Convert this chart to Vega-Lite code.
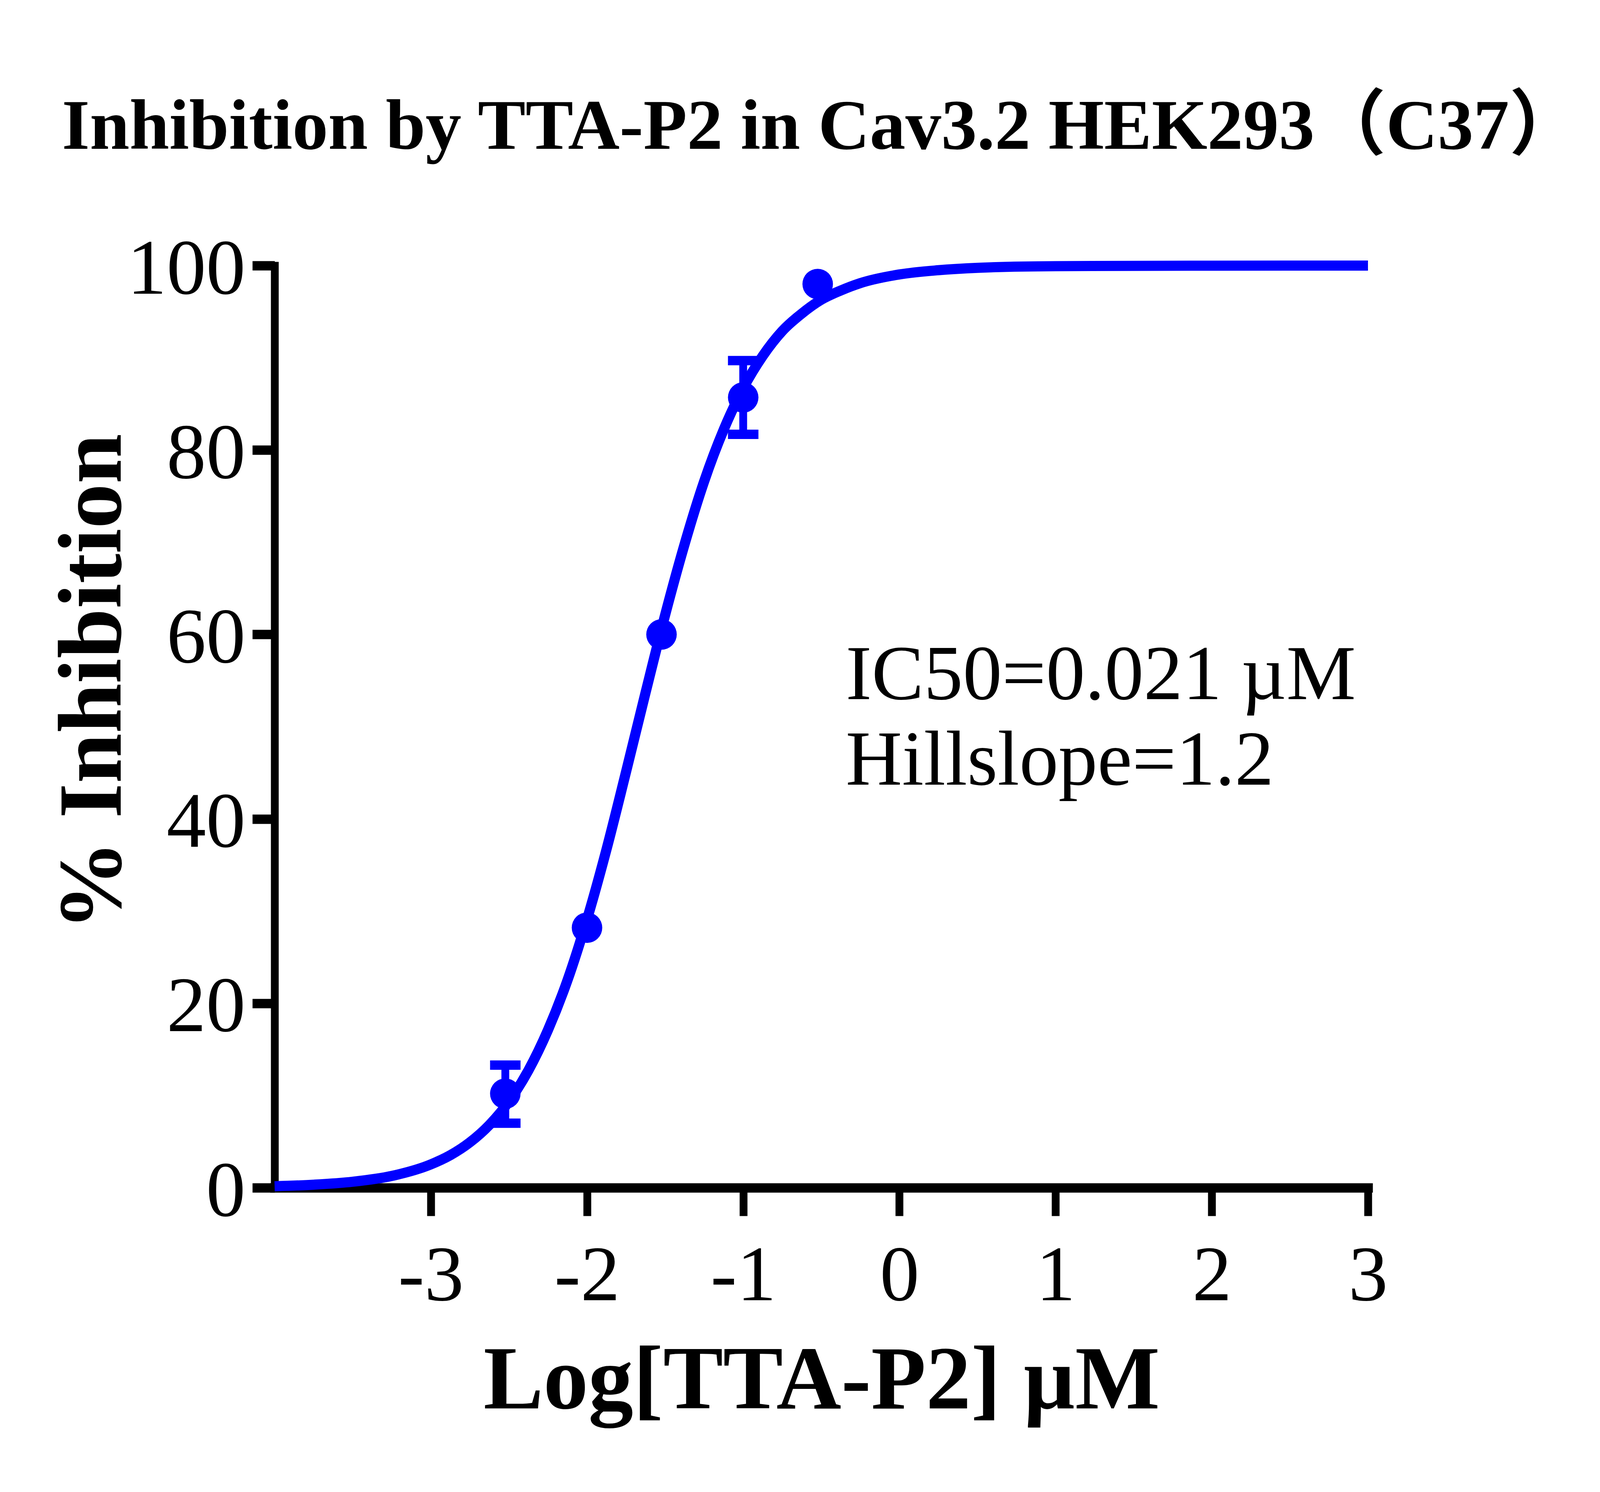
{
  "$schema": "https://vega.github.io/schema/vega-lite/v6.json",
  "width": 2799,
  "height": 2361,
  "autosize": {"type": "none"},
  "padding": {"left": 703, "top": 680, "right": 594, "bottom": 779},
  "background": "white",
  "title": {
    "text": "Inhibition by TTA-P2 in Cav3.2 HEK293（C37）",
    "font": "Liberation Serif, Noto Sans CJK SC",
    "fontSize": 183,
    "fontWeight": "bold",
    "color": "black",
    "anchor": "middle",
    "baseline": "alphabetic",
    "limit": 0,
    "offset": 25
  },
  "datasets": {
    "curve": [
      {"x": -4.0, "y": 0.16},
      {"x": -3.75, "y": 0.33},
      {"x": -3.5, "y": 0.65},
      {"x": -3.25, "y": 1.28},
      {"x": -3.0, "y": 2.53},
      {"x": -2.875, "y": 3.53},
      {"x": -2.75, "y": 4.92},
      {"x": -2.625, "y": 6.81},
      {"x": -2.5, "y": 9.35},
      {"x": -2.375, "y": 12.73},
      {"x": -2.25, "y": 17.1},
      {"x": -2.125, "y": 22.5},
      {"x": -2.0, "y": 29.1},
      {"x": -1.875, "y": 36.7},
      {"x": -1.75, "y": 45.1},
      {"x": -1.625, "y": 53.7},
      {"x": -1.5, "y": 62.1},
      {"x": -1.375, "y": 69.8},
      {"x": -1.25, "y": 76.6},
      {"x": -1.125, "y": 82.2},
      {"x": -1.0, "y": 86.7},
      {"x": -0.875, "y": 90.2},
      {"x": -0.75, "y": 92.9},
      {"x": -0.625, "y": 94.8},
      {"x": -0.5, "y": 96.3},
      {"x": -0.375, "y": 97.3},
      {"x": -0.25, "y": 98.1},
      {"x": 0.0, "y": 99.04},
      {"x": 0.25, "y": 99.5},
      {"x": 0.5, "y": 99.76},
      {"x": 1.0, "y": 99.94},
      {"x": 2.0, "y": 99.99},
      {"x": 3.0, "y": 100.0}
    ],
    "points": [
      {"x": -2.523, "y": 10.2},
      {"x": -2.0, "y": 28.2},
      {"x": -1.523, "y": 60.0},
      {"x": -1.0, "y": 85.7},
      {"x": -0.523, "y": 98.0}
    ],
    "errors": [
      {"x": -2.523, "lo": 7.0, "hi": 13.3},
      {"x": -1.0, "lo": 81.7, "hi": 89.7}
    ]
  },
  "layer": [
    {
      "data": {"name": "curve"},
      "mark": {"type": "line", "color": "#0000ff", "strokeWidth": 26, "interpolate": "monotone", "clip": false},
      "encoding": {
        "x": {
          "field": "x",
          "type": "quantitative",
          "scale": {"domain": [-4, 3], "nice": false, "zero": false},
          "axis": {
            "values": [-3, -2, -1, 0, 1, 2, 3],
            "labelExpr": "'' + datum.value",
            "labelPadding": 55,
            "tickSize": 72,
            "tickWidth": 20,
            "domainWidth": 24,
            "title": "Log[TTA-P2] µM",
            "titleX": 1400,
            "titleY": 564,
            "titleBaseline": "alphabetic",
            "titleAlign": "center"
          }
        },
        "y": {
          "field": "y",
          "type": "quantitative",
          "scale": {"domain": [0, 100], "nice": false},
          "axis": {
            "values": [0, 20, 40, 60, 80, 100],
            "labelPadding": 18,
            "labelOffset": 10,
            "tickSize": 57,
            "tickWidth": 24,
            "domainWidth": 20,
            "title": "% Inhibition",
            "titleAngle": 270,
            "titleX": -395,
            "titleY": 1066,
            "titleAlign": "center",
            "titleBaseline": "alphabetic"
          }
        }
      }
    },
    {
      "data": {"name": "errors"},
      "mark": {"type": "rule", "color": "#0000ff", "strokeWidth": 20},
      "encoding": {
        "x": {"field": "x", "type": "quantitative"},
        "y": {"field": "lo", "type": "quantitative"},
        "y2": {"field": "hi"}
      }
    },
    {
      "data": {"name": "errors"},
      "mark": {"type": "tick", "color": "#0000ff", "orient": "horizontal", "size": 78, "thickness": 24, "opacity": 1},
      "encoding": {
        "x": {"field": "x", "type": "quantitative"},
        "y": {"field": "hi", "type": "quantitative"}
      }
    },
    {
      "data": {"name": "errors"},
      "mark": {"type": "tick", "color": "#0000ff", "orient": "horizontal", "size": 78, "thickness": 24, "opacity": 1},
      "encoding": {
        "x": {"field": "x", "type": "quantitative"},
        "y": {"field": "lo", "type": "quantitative"}
      }
    },
    {
      "data": {"name": "points"},
      "mark": {"type": "circle", "color": "#0000ff", "size": 6100, "opacity": 1},
      "encoding": {
        "x": {"field": "x", "type": "quantitative"},
        "y": {"field": "y", "type": "quantitative"}
      }
    },
    {
      "data": {"values": [{}]},
      "mark": {"type": "text", "align": "left", "baseline": "alphabetic", "fontSize": 200, "font": "Liberation Serif", "color": "black"},
      "encoding": {
        "x": {"datum": -0.344, "type": "quantitative"},
        "y": {"datum": 53.0, "type": "quantitative"},
        "text": {"value": "IC50=0.021 µM"}
      }
    },
    {
      "data": {"values": [{}]},
      "mark": {"type": "text", "align": "left", "baseline": "alphabetic", "fontSize": 200, "font": "Liberation Serif", "color": "black"},
      "encoding": {
        "x": {"datum": -0.344, "type": "quantitative"},
        "y": {"datum": 43.7, "type": "quantitative"},
        "text": {"value": "Hillslope=1.2"}
      }
    }
  ],
  "config": {
    "view": {"stroke": null},
    "axis": {
      "grid": false,
      "domainColor": "black",
      "domainCap": "square",
      "tickColor": "black",
      "labelFont": "Liberation Serif",
      "labelFontSize": 202,
      "labelColor": "black",
      "labelLimit": 0,
      "labelFlush": false,
      "labelOverlap": false,
      "titleFont": "Liberation Serif",
      "titleFontSize": 230,
      "titleFontWeight": "bold",
      "titleColor": "black",
      "titleLimit": 0
    }
  }
}
